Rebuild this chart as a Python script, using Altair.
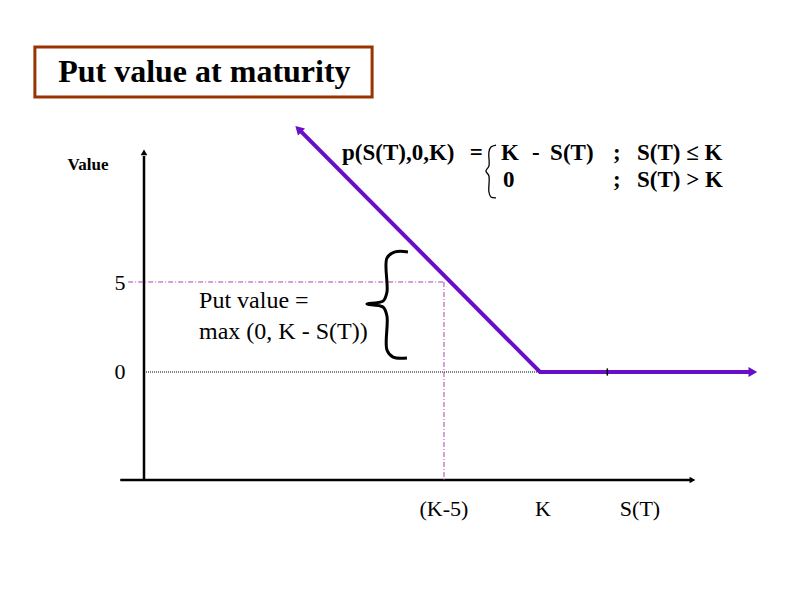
import altair as alt
import pandas as pd

# ---- data (S(T) on x, option value on y) ----
payoff_s = [7.9, 20.0, 30.6]      # S(T) points of the put payoff line
payoff_v = [13.4, 0.0, 0.0]       # payoff values
strike = 20.0                     # K
strike_minus5 = 15.15             # K-5
ref_value = 5.0

y_tick_labels = ["5", "0"]
y_tick_values = [4.56, -0.39]
x_tick_labels = ["(K-5)", "K", "S(T)"]
x_tick_pos = [15.15, 20.15, 25.05]

# big brace path (data units)
brace_s = [13.33, 12.68, 12.27, 12.27, 12.07, 11.26, 12.07, 12.27, 12.27, 12.58, 13.28]
brace_v = [6.67, 6.67, 6.33, 4.44, 3.94, 3.78, 3.61, 3.11, 1.22, 0.83, 0.78]
# small brace in the formula
sbrace_s = [17.78, 17.52, 17.42, 17.42, 17.27, 17.42, 17.42, 17.52, 17.78]
sbrace_v = [12.61, 12.5, 12.22, 11.44, 11.17, 10.89, 10.0, 9.72, 9.67]

PURPLE = "#6A0DC8"
PINK = "#B040B0"
BROWN = "#993300"
SERIF = "Liberation Serif"

xs = alt.Scale(domain=[-6.8687, 32.3232], nice=False, zero=False)
ys = alt.Scale(domain=[-12.8889, 20.2222], nice=False, zero=False)


def X(f="s"):
    return alt.X(f"{f}:Q", scale=xs, axis=None)


def Y(f="v"):
    return alt.Y(f"{f}:Q", scale=ys, axis=None)


layers = []

# title box
title_df = pd.DataFrame({"s": [-5.51], "s2": [11.52], "v": [18.06], "v2": [15.28]})
layers.append(alt.Chart(title_df).mark_rect(fill="white", stroke=BROWN, strokeWidth=3).encode(
    x=X(), x2="s2:Q", y=Y(), y2="v2:Q"))
layers.append(alt.Chart(pd.DataFrame({"s": [3.05], "v": [16.11], "t": ["Put value at maturity"]}))
              .mark_text(font=SERIF, fontSize=32, fontWeight="bold", color="black", baseline="alphabetic")
              .encode(x=X(), y=Y(), text="t:N"))

# axes
axes_df = pd.DataFrame({"s": [0.0, -1.2], "s2": [0.0, 27.6], "v": [-6.0, -6.0], "v2": [12.0, -6.0]})
layers.append(alt.Chart(axes_df).mark_rule(color="black", strokeWidth=2.5).encode(
    x=X(), x2="s2:Q", y=Y(), y2="v2:Q"))
arr_df = pd.DataFrame({"s": [0.0], "v": [12.2]})
layers.append(alt.Chart(arr_df).mark_point(shape="triangle-up", filled=True, color="black", size=45, opacity=1)
              .encode(x=X(), y=Y()))
arr_df2 = pd.DataFrame({"s": [27.7], "v": [-6.0]})
layers.append(alt.Chart(arr_df2).mark_point(shape="triangle-right", filled=True, color="black", size=45, opacity=1)
              .encode(x=X(), y=Y()))

# dotted zero line
layers.append(alt.Chart(pd.DataFrame({"s": [0.0], "s2": [strike], "v": [0.0]}))
              .mark_rule(color="black", strokeWidth=1, strokeDash=[1, 1])
              .encode(x=X(), x2="s2:Q", y=Y()))

# pink dash-dot guides
layers.append(alt.Chart(pd.DataFrame({"s": [-0.8], "s2": [strike_minus5], "v": [ref_value]}))
              .mark_rule(color=PINK, strokeWidth=1, strokeDash=[5, 2, 1, 2])
              .encode(x=X(), x2="s2:Q", y=Y()))
layers.append(alt.Chart(pd.DataFrame({"s": [strike_minus5], "v": [ref_value], "v2": [-6.0]}))
              .mark_rule(color=PINK, strokeWidth=1, strokeDash=[5, 2, 1, 2])
              .encode(x=X(), y=Y(), y2="v2:Q"))

# payoff line
pay_df = pd.DataFrame({"s": payoff_s, "v": payoff_v, "o": list(range(len(payoff_s)))})
layers.append(alt.Chart(pay_df).mark_line(color=PURPLE, strokeWidth=4, strokeCap="butt")
              .encode(x=X(), y=Y(), order="o:Q"))
layers.append(alt.Chart(pd.DataFrame({"s": [payoff_s[-1] + 0.15], "v": [payoff_v[-1]]}))
              .mark_point(shape="triangle-right", filled=True, color=PURPLE, size=100, opacity=1)
              .encode(x=X(), y=Y()))
layers.append(alt.Chart(pd.DataFrame({"s": [payoff_s[0] - 0.1], "v": [payoff_v[0] + 0.1]}))
              .mark_point(shape="triangle-up", filled=True, color=PURPLE, size=100, opacity=1, angle=315)
              .encode(x=X(), y=Y()))
# small tick on the flat part
layers.append(alt.Chart(pd.DataFrame({"s": [23.4], "v": [0.2], "v2": [-0.2]}))
              .mark_rule(color="black", strokeWidth=1.5).encode(x=X(), y=Y(), y2="v2:Q"))

# braces
b_df = pd.DataFrame({"s": brace_s, "v": brace_v, "o": list(range(len(brace_s)))})
layers.append(alt.Chart(b_df).mark_line(color="black", strokeWidth=3, interpolate="catmull-rom")
              .encode(x=X(), y=Y(), order="o:Q"))
sb_df = pd.DataFrame({"s": sbrace_s, "v": sbrace_v, "o": list(range(len(sbrace_s)))})
layers.append(alt.Chart(sb_df).mark_line(color="black", strokeWidth=1.3, interpolate="catmull-rom")
              .encode(x=X(), y=Y(), order="o:Q"))

# axis labels
layers.append(alt.Chart(pd.DataFrame({"s": [-2.83], "v": [11.2], "t": ["Value"]}))
              .mark_text(font=SERIF, fontSize=17, fontWeight="bold", color="black", baseline="alphabetic")
              .encode(x=X(), y=Y(), text="t:N"))
layers.append(alt.Chart(pd.DataFrame({"s": [-1.21] * 2, "v": y_tick_values, "t": y_tick_labels}))
              .mark_text(font=SERIF, fontSize=22, color="black", baseline="alphabetic")
              .encode(x=X(), y=Y(), text="t:N"))
layers.append(alt.Chart(pd.DataFrame({"s": x_tick_pos, "v": [-8.0] * 3, "t": x_tick_labels}))
              .mark_text(font=SERIF, fontSize=22, color="black", baseline="alphabetic")
              .encode(x=X(), y=Y(), text="t:N"))

# annotation
layers.append(alt.Chart(pd.DataFrame({"s": [2.78, 2.78], "v": [3.56, 1.83],
                                      "t": ["Put value =", "max (0, K - S(T))"]}))
              .mark_text(font=SERIF, fontSize=24, color="black", align="left", baseline="alphabetic")
              .encode(x=X(), y=Y(), text="t:N"))

# formula
f_df = pd.DataFrame({
    "s": [10.0, 16.45, 18.03, 19.60, 20.51, 23.69, 24.90, 18.13, 23.69, 24.90],
    "v": [11.78] * 7 + [10.28] * 3,
    "t": ["p(S(T),0,K)", "=", "K", "-", "S(T)", ";", "S(T) \u2264 K", "0", ";", "S(T) > K"],
})
layers.append(alt.Chart(f_df).mark_text(font=SERIF, fontSize=23, fontWeight="bold", color="black",
                                        align="left", baseline="alphabetic")
              .encode(x=X(), y=Y(), text="t:N"))

chart = alt.layer(*layers).properties(
    width=776, height=596,
    autosize=alt.AutoSizeParams(type="none"),
    padding=0,
).configure_view(stroke=None)

chart.save("out.html", embed_options={"renderer": "svg", "actions": False})
